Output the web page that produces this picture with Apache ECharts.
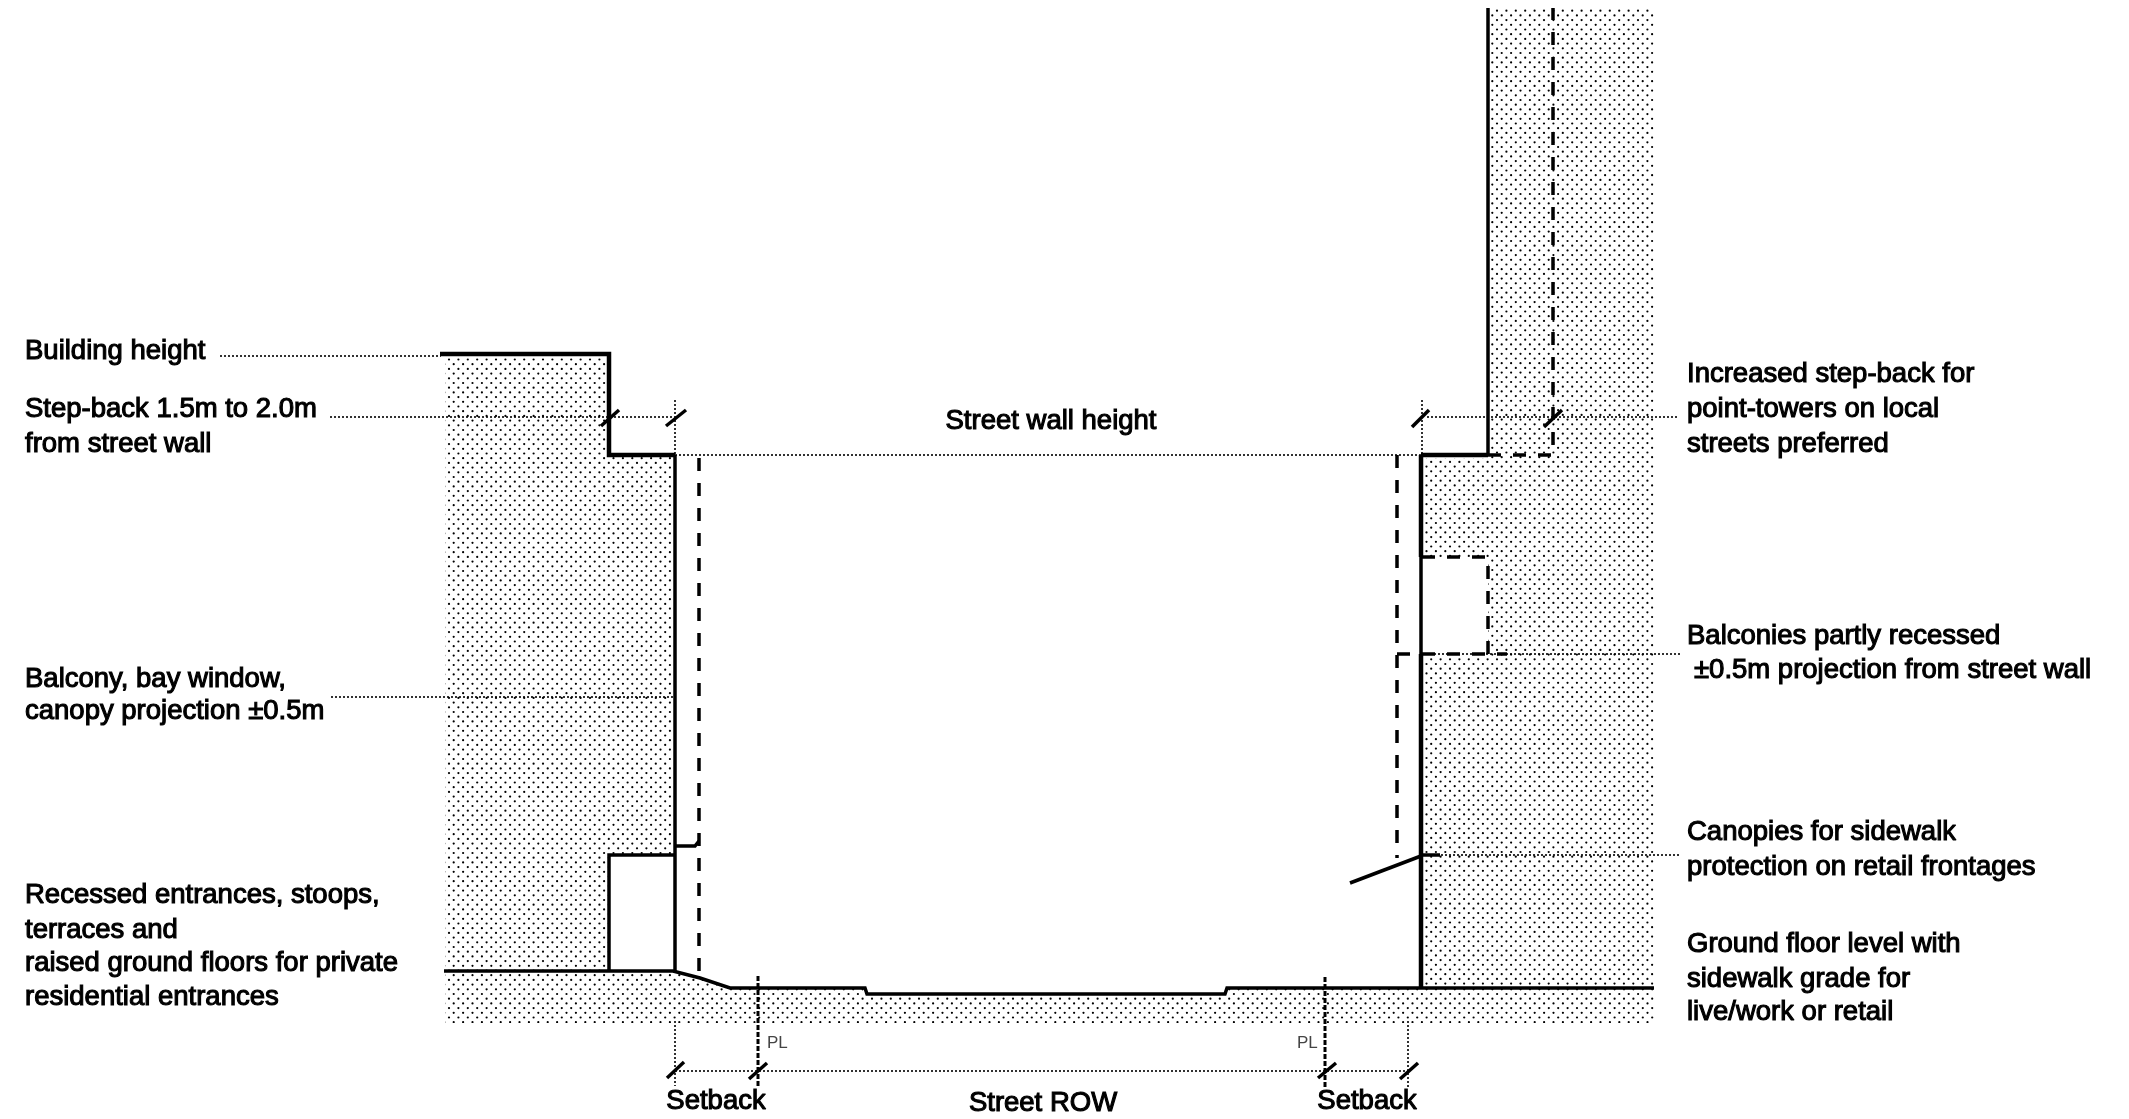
<!DOCTYPE html>
<html>
<head>
<meta charset="utf-8">
<style>html,body{margin:0;padding:0;background:#fff}#c{width:2129px;height:1119px}</style>
<script src="https://cdn.jsdelivr.net/npm/echarts@6/dist/echarts.min.js"></script>
</head>
<body>
<div id="c"></div>
<script>
// Diagram values, in drawing units
var hatchLeftGround = [[445,358],[606,358],[606,455],[673,455],[673,855],[609,855],[609,971],[675,971],[730,988],[866,988],[868,994],[1225,994],[1227,988],[1654,988],[1654,1023],[445,1023]];
var hatchRightTower = [[1424,458],[1488,458],[1488,8],[1654,8],[1654,988],[1424,988],[1424,656],[1488,656],[1488,557],[1424,557]];

var solidRoofStep = [[440,354],[609,354],[609,455],[675,455]];
var solidLeftWall = [[675,455],[675,972]];
var solidRecess = [[609,971],[609,855],[675,855]];
var solidGround = [[444,971],[673,971],[700,978],[730,988],[865,988],[867,994],[1225,994],[1227,988],[1654,988]];
var solidRightWallUpper = [[1421,455],[1421,557]];
var solidRightWallMid = [[1421,557],[1421,654]];
var solidRightWallLower = [[1421,654],[1421,988]];
var solidRightStep = [[1421,455],[1488,455]];
var solidTower = [[1488,455],[1488,8]];
var solidCanopy = [[1350,883],[1421,856]];
var solidCanopyStub = [[1421,855],[1440,855]];
var solidBalconyStub = [[675,846],[695,846],[699,841]];

var tickMarks = [
  [[601,426],[619,410]], [[666,426],[686,410]], [[1412,427],[1429,410]], [[1544,427],[1562,410]],
  [[667,1078],[684,1062]], [[749,1079],[767,1063]], [[1318,1078],[1336,1063]], [[1400,1079],[1418,1063]]
];

var dashLeftProjection = [[699,458],[699,975]];
var dashRightProjection = [[1397,455],[1397,858]];
var dashTowerBase = [[1488,455],[1553,455],[1553,8]];
var dashBalconyTop = [[1422,557],[1488,557],[1488,654]];
var dashBalconyBase = [[1397,654],[1507,654]];
var dashRowLeft = [[758,976],[758,1087]];
var dashRowRight = [[1325,977],[1325,1087]];

var leaders = [
  [[220,356],[441,356]],
  [[330,417],[672,417]],
  [[331,697],[675,697]],
  [[675,455],[1422,455]],
  [[1427,417],[1678,417]],
  [[1422,654],[1680,654]],
  [[1421,855],[1680,855]],
  [[675,1071],[1408,1071]],
  [[675,400],[675,455]],
  [[1422,400],[1422,455]],
  [[675,1021],[675,1086]],
  [[1408,1021],[1408,1088]]
];

var labelTexts = [
  "Building height","Step-back 1.5m to 2.0m","from street wall",
  "Balcony, bay window,","canopy projection \u00b10.5m",
  "Recessed entrances, stoops,","terraces and","raised ground floors for private","residential entrances",
  "Increased step-back for","point-towers on local","streets preferred",
  "Balconies partly recessed","\u00b10.5m projection from street wall",
  "Canopies for sidewalk","protection on retail frontages",
  "Ground floor level with","sidewalk grade for","live/work or retail"
];
var labelXs = [25,25,25,25,25,25,25,25,25,1687,1687,1687,1687,1694,1687,1687,1687,1687,1687];
var labelYs = [351,409,444,679,711,895,930,963,997,374,409,444,636,670,832,867,944,979,1012];
var centredTexts = ["Street wall height","Setback","Street ROW","Setback"];
var centredXs = [1051,716,1043,1367];
var centredYs = [421,1101,1103,1101];
var smallTexts = ["PL","PL"];
var smallXs = [767,1297];
var smallYs = [1043,1043];

function dots(ox, oy){
  var c = document.createElement('canvas'); c.width = 47; c.height = 47;
  var g = c.getContext('2d'); g.fillStyle = '#000';
  for (var r = 0; r < 10; r++) {
    for (var k = 0; k < 5; k++) {
      var x = ox + k*9.4 + (r%2 ? 4.7 : 0), y = oy + r*4.7;
      x = ((x%47)+47)%47; y = ((y%47)+47)%47;
      [0,-47,47].forEach(function(dx){ [0,-47,47].forEach(function(dy){
        g.beginPath(); g.arc(x+dx, y+dy, 1.1, 0, 6.3); g.fill();
      });});
    }
  }
  return c;
}
function polygonSeries(pts, tile){
  return {type:'custom', coordinateSystem:'cartesian2d', silent:true, animation:false, z:1, clip:false,
    data: pts,
    renderItem:function(p, api){
      if (p.dataIndex !== 0) return null;
      return {type:'polygon', shape:{points:pts.map(function(q){return api.coord(q);})},
        style:{fill:{image:tile, repeat:'repeat'}, stroke:'none'}};
    }};
}
function lineSeries(pts, width, dash, color, z){
  return {type:'line', data:pts, symbol:'none', silent:true, animation:false, z:z||3, clip:false,
    lineStyle:{color:color||'#000', width:width, type:dash||'solid', cap:'butt', join:'miter'}};
}
function textSeries(texts, xs, ys, size, align, color, stroke){
  return {type:'custom', coordinateSystem:'cartesian2d', silent:true, animation:false, z:5, clip:false,
    data: texts.map(function(t,i){return [xs[i], ys[i]];}),
    renderItem:function(p, api){
      var q = api.coord([api.value(0), api.value(1)]);
      return {type:'text', x:q[0], y:q[1], style:{text:texts[p.dataIndex], fill:color,
        font:size+'px "Liberation Sans", Arial, sans-serif', textAlign:align, textVerticalAlign:'middle',
        stroke:color, lineWidth:stroke}};
    }};
}
var series = [
  polygonSeries(hatchLeftGround, dots(26, 30.5)),
  polygonSeries(hatchRightTower, dots(40, 10.7))
];
leaders.forEach(function(l){ series.push(lineSeries(l, 1.6, [2,2], '#000', 2)); });
[solidRoofStep, solidRightStep].forEach(function(l){ series.push(lineSeries(l, 4.5)); });
[solidLeftWall, solidRecess, solidTower, solidGround, solidCanopy, solidCanopyStub, solidBalconyStub, solidRightWallMid].forEach(function(l){ series.push(lineSeries(l, 3.5)); });
[solidRightWallUpper, solidRightWallLower].forEach(function(l){ series.push(lineSeries(l, 4.5)); });
tickMarks.forEach(function(l){ series.push(lineSeries(l, 3.5)); });
[dashLeftProjection, dashRightProjection, dashTowerBase, dashBalconyTop, dashBalconyBase].forEach(function(l){ series.push(lineSeries(l, 3.5, [13,12])); });
[dashRowLeft, dashRowRight].forEach(function(l){ series.push(lineSeries(l, 3, [5,2])); });
series.push(textSeries(labelTexts, labelXs, labelYs, 27.5, 'left', '#000', 1.1));
series.push(textSeries(centredTexts, centredXs, centredYs, 27.5, 'center', '#000', 1.1));
series.push(textSeries(smallTexts, smallXs, smallYs, 17, 'left', '#444', 0));

var chart = echarts.init(document.getElementById('c'), null, {renderer:'canvas', width:2129, height:1119, devicePixelRatio:1});
chart.setOption({
  animation:false, backgroundColor:'#fff',
  grid:{left:0,right:0,top:0,bottom:0,containLabel:false},
  xAxis:{type:'value',min:0,max:2129,show:false},
  yAxis:{type:'value',min:0,max:1119,inverse:true,show:false},
  tooltip:{show:false}, legend:{show:false},
  series:series
});
</script>
</body>
</html>
